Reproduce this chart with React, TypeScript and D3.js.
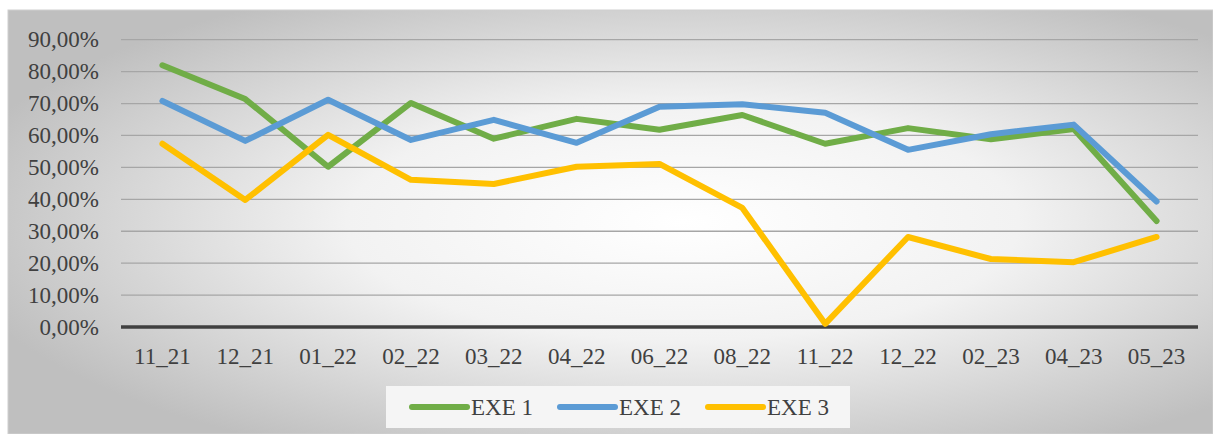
import React from "react";
import * as d3 from "d3";

const categories = ["11_21","12_21","01_22","02_22","03_22","04_22","06_22","08_22","11_22","12_22","02_23","04_23","05_23"];
const exe1 = [82.0, 71.4, 50.2, 70.2, 59.0, 65.2, 61.8, 66.4, 57.4, 62.3, 58.8, 62.0, 33.2];
const exe2 = [70.8, 58.3, 71.2, 58.6, 64.9, 57.7, 69.0, 69.8, 67.1, 55.5, 60.4, 63.4, 39.3];
const exe3 = [57.4, 39.8, 60.2, 46.1, 44.8, 50.2, 51.1, 37.3, 1.0, 28.2, 21.3, 20.3, 28.2];
const yTicks = [0, 10, 20, 30, 40, 50, 60, 70, 80, 90];
const seriesNames = ["EXE 1", "EXE 2", "EXE 3"];
const seriesColors = ["#70AD47", "#5B9BD5", "#FFC000"];

export default function App() {
  const W = 1213, H = 434;
  const left = 121, right = 1198, top = 39.7, bottom = 327;
  const x = d3.scaleBand<string>().domain(categories).range([left, right]);
  const y = d3.scaleLinear().domain([0, 90]).range([bottom, top]);
  const line = d3.line<number>()
    .x((_, i) => (x(categories[i]) as number) + x.bandwidth() / 2)
    .y((d) => y(d));
  const series = [exe1, exe2, exe3];
  const font = "'Liberation Serif', 'Times New Roman', serif";
  const legendX = [412, 560, 708];
  return (
    <svg width={W} height={H} style={{ position: "absolute", left: 0, top: 0 }}>
      <defs>
        <radialGradient id="bg" cx="56%" cy="50%" r="62%" gradientUnits="objectBoundingBox">
          <stop offset="0%" stopColor="#ffffff" />
          <stop offset="45%" stopColor="#f2f2f2" />
          <stop offset="100%" stopColor="#bfbfbf" />
        </radialGradient>
      </defs>
      <rect x={8} y={10} width={W - 8} height={H - 10} fill="url(#bg)" stroke="#d0d0d0" strokeWidth={1} />
      {yTicks.map((t) => (
        <g key={t}>
          {t !== 0 && (
            <line x1={left} x2={right} y1={y(t)} y2={y(t)} stroke="#a6a6a6" strokeWidth={1.3} />
          )}
          <text x={99} y={y(t) + 7.5} textAnchor="end" fontFamily={font} fontSize={23} fill="#404040">
            {t.toFixed(2).replace(".", ",") + "%"}
          </text>
        </g>
      ))}
      <line x1={left} x2={right} y1={y(0)} y2={y(0)} stroke="#404040" strokeWidth={3.5} />
      {categories.map((c) => (
        <text key={c} x={(x(c) as number) + x.bandwidth() / 2} y={364} textAnchor="middle" fontFamily={font} fontSize={23} fill="#404040">
          {c}
        </text>
      ))}
      {series.map((s, i) => (
        <path key={i} d={line(s) as string} fill="none" stroke={seriesColors[i]} strokeWidth={6} strokeLinecap="round" strokeLinejoin="round" />
      ))}
      <rect x={386} y={386} width={464} height={42} fill="#f5f5f5" />
      {seriesNames.map((n, i) => (
        <g key={n}>
          <line x1={legendX[i]} x2={legendX[i] + 55} y1={407} y2={407} stroke={seriesColors[i]} strokeWidth={6} strokeLinecap="round" />
          <text x={legendX[i] + 59} y={415} fontFamily={font} fontSize={23} fill="#404040">{n}</text>
        </g>
      ))}
    </svg>
  );
}
